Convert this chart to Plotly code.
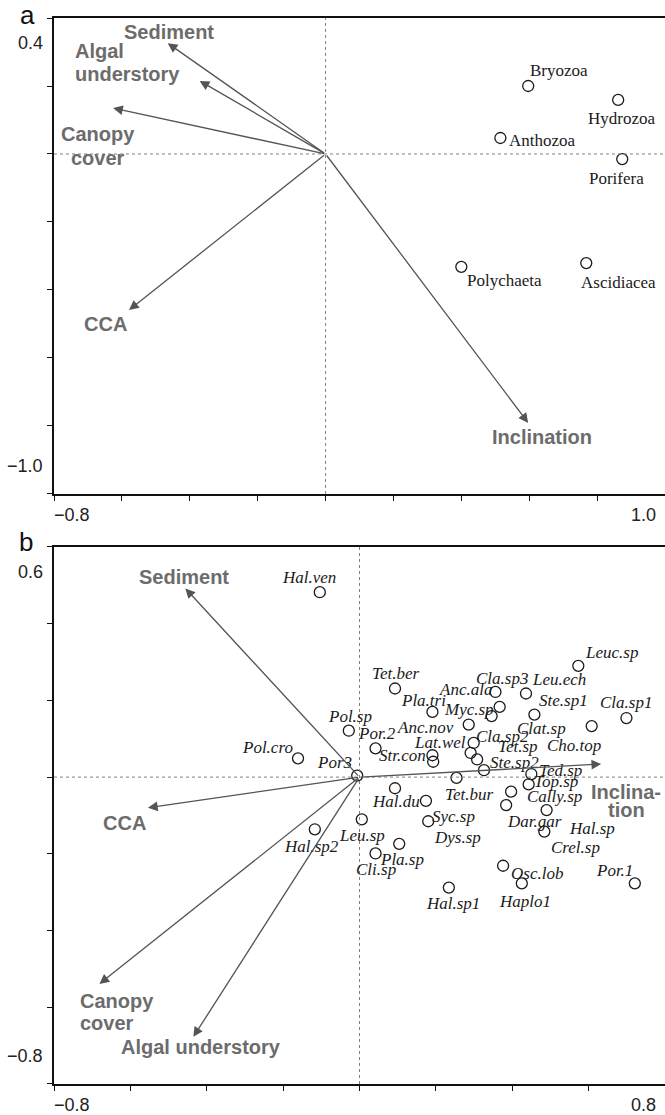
import plotly.graph_objects as go

# ---------------- data: panel a ----------------
sp_a_names = ["Bryozoa", "Hydrozoa", "Anthozoa", "Porifera", "Polychaeta", "Ascidiacea"]
sp_a_x = [0.597, 0.862, 0.515, 0.874, 0.400, 0.768]
sp_a_y = [0.200, 0.159, 0.047, -0.015, -0.332, -0.321]

env_a_names = ["Sediment", "Algal understory", "Canopy cover", "CCA", "Inclination"]
env_a_x = [-0.465, -0.371, -0.626, -0.579, 0.597]
env_a_y = [0.326, 0.215, 0.135, -0.459, -0.791]

# ---------------- data: panel b ----------------
sp_b_names = ["Hal.ven", "Tet.ber", "Pla.tri", "Anc.ala", "Cla.sp3", "Leu.ech", "Leuc.sp",
              "Myc.sp", "Ste.sp1", "Cla.sp1", "Pol.sp", "Por.2", "Anc.nov", "Clat.sp",
              "Cho.top", "Lat.wel", "Cla.sp2", "Tet.sp", "Ste.sp2", "Str.con", "Pol.cro",
              "Por3", "Ted.sp", "Top.sp", "Tet.bur", "Hal.du", "Cally.sp", "Syc.sp",
              "Dys.sp", "Dar.gar", "Hal.sp", "Crel.sp", "Leu.sp", "Hal.sp2", "Pla.sp",
              "Cli.sp", "Osc.lob", "Haplo1", "Por.1", "Hal.sp1"]
sp_b_x = [-0.104, 0.093, 0.191, 0.367, 0.356, 0.436, 0.573,
          0.346, 0.458, 0.699, -0.028, 0.042, 0.286, 0.193,
          0.608, 0.299, 0.291, 0.308, 0.326, 0.191, -0.161,
          -0.006, 0.450, 0.443, 0.254, 0.093, 0.397, 0.174,
          0.180, 0.384, 0.490, 0.484, 0.006, -0.117, 0.104,
          0.042, 0.376, 0.425, 0.721, 0.234]
sp_b_y = [0.482, 0.231, 0.170, 0.183, 0.222, 0.218, 0.290,
          0.159, 0.163, 0.154, 0.121, 0.075, 0.137, 0.040,
          0.133, 0.089, 0.063, 0.046, 0.018, 0.057, 0.049,
          0.004, 0.008, -0.019, -0.002, -0.029, -0.038, -0.062,
          -0.115, -0.073, -0.086, -0.142, -0.110, -0.136, -0.174,
          -0.199, -0.231, -0.277, -0.277, -0.288]

env_b_names = ["Sediment", "CCA", "Canopy cover", "Algal understory", "Inclination"]
env_b_x = [-0.456, -0.554, -0.681, -0.435, 0.633]
env_b_y = [0.492, -0.080, -0.539, -0.677, 0.034]

# axis ticks / end labels
ticks_a_x = [-0.8, -0.6, -0.4, -0.2, 0.0, 0.2, 0.4, 0.6, 0.8, 1.0]
ticks_a_y = [-1.0, -0.8, -0.6, -0.4, -0.2, 0.0, 0.2, 0.4]
ticks_b_x = [-0.8, -0.6, -0.4, -0.2, 0.0, 0.2, 0.4, 0.6, 0.8]
ticks_b_y = [-0.8, -0.6, -0.4, -0.2, 0.0, 0.2, 0.4, 0.6]
range_a_x = [-0.8, 1.0]
range_a_y = [-1.0, 0.4]
range_b_x = [-0.8, 0.8]
range_b_y = [-0.8, 0.6]

# ---------------- label placement (pixel offsets) ----------------
lab_a_off = {"Bryozoa": (31, 16), "Hydrozoa": (3, -19), "Anthozoa": (42, -2),
             "Porifera": (-6, -19), "Polychaeta": (43, -14), "Ascidiacea": (32, -19)}
lab_b_off = {"Hal.ven": (-11, 15), "Tet.ber": (0, 15), "Pla.tri": (-9, 11), "Anc.ala": (-34, 17),
             "Cla.sp3": (7, 13), "Leu.ech": (33, 14), "Leuc.sp": (33, 13), "Myc.sp": (-23, 7),
             "Ste.sp1": (29, 14), "Cla.sp1": (0, 16), "Pol.sp": (1, 14), "Por.2": (1, 15),
             "Anc.nov": (-43, -3), "Clat.sp": (108, 33), "Cho.top": (-18, -19), "Lat.wel": (-34, 0),
             "Cla.sp2": (32, 16), "Tet.sp": (41, 13), "Ste.sp2": (31, 8), "Str.con": (-30, 0),
             "Pol.cro": (-31, 11), "Por3": (-23, 13), "Ted.sp": (29, 4), "Top.sp": (27, 3),
             "Tet.bur": (12, -17), "Hal.du": (1, -13), "Cally.sp": (43, -5), "Syc.sp": (28, -16),
             "Dys.sp": (29, -16), "Dar.gar": (28, -16), "Hal.sp": (45, -18), "Crel.sp": (31, -16),
             "Leu.sp": (0, -16), "Hal.sp2": (-3, -17), "Pla.sp": (3, -16), "Cli.sp": (0, -16),
             "Osc.lob": (34, -8), "Haplo1": (3, -18), "Por.1": (-20, 13), "Hal.sp1": (4, -16)}
# env label: (lines, dx, dy of first line, xanchor, line spacing)
env_a_lab = {"Sediment": (["Sediment"], 1, 11, "center", 0),
             "Algal understory": (["Algal", "understory"], -127, 30, "left", 23),
             "Canopy cover": (["Canopy", "cover"], -15, -26, "center", 24),
             "CCA": (["CCA"], -24, -14, "center", 0),
             "Inclination": (["Inclination"], 14, -14, "center", 0)}
env_b_lab = {"Sediment": (["Sediment"], -1, 11, "center", 0),
             "CCA": (["CCA"], -23, -15, "center", 0),
             "Canopy cover": (["Canopy", "cover"], -21, -17, "left", 22),
             "Algal understory": (["Algal understory"], 8, -10, "center", 0),
             "Inclination": (["Inclina-", "tion"], 25, -28, "center", 18)}

ARROW_C = "#545454"
ENV_C = "#6c6c6c"
TXT_C = "#1a1a1a"
SANS = "Liberation Sans, Arial, sans-serif"
SERIF = "Liberation Serif, Times New Roman, serif"

fig = go.Figure()
ann = []
shapes = []

def add_panel(xref, yref, spn, spx, spy, off, italic, envn, envx, envy, envlab):
    fig.add_trace(go.Scatter(
        x=spx, y=spy, mode="markers", xaxis=xref, yaxis=yref, text=spn,
        marker=dict(symbol="circle-open", size=11, color=TXT_C, line=dict(width=1.3)),
        hoverinfo="text", showlegend=False))
    for n, x, y in zip(spn, spx, spy):
        dx, dy = off[n]
        ann.append(dict(x=x, y=y, xref=xref, yref=yref, text=n, showarrow=False,
                        xshift=dx, yshift=dy, xanchor="center", yanchor="middle",
                        font=dict(family=SERIF, size=17, color=TXT_C,
                                  style="italic" if italic else "normal")))
    for n, x, y in zip(envn, envx, envy):
        ann.append(dict(x=x, y=y, xref=xref, yref=yref, ax=0, ay=0,
                        axref=xref, ayref=yref, text="", showarrow=True,
                        arrowhead=2, arrowsize=1.5, arrowwidth=1.3,
                        arrowcolor=ARROW_C, standoff=0, startstandoff=0))
        lines, dx, dy, xa, sp = envlab[n]
        for i, t in enumerate(lines):
            ann.append(dict(x=x, y=y, xref=xref, yref=yref, text="<b>%s</b>" % t,
                            showarrow=False, xshift=dx, yshift=dy - i * sp,
                            xanchor=xa, yanchor="middle",
                            font=dict(family=SANS, size=20, color=ENV_C)))
    # dotted cross through origin
    shapes.append(dict(type="line", xref=xref, yref=yref + " domain", x0=0, x1=0, y0=0, y1=1,
                       line=dict(color="#808080", width=1, dash="dot")))
    shapes.append(dict(type="line", xref=xref + " domain", yref=yref, x0=0, x1=1, y0=0, y1=0,
                       line=dict(color="#808080", width=1, dash="dot")))

add_panel("x", "y", sp_a_names, sp_a_x, sp_a_y, lab_a_off, False,
          env_a_names, env_a_x, env_a_y, env_a_lab)
add_panel("x2", "y2", sp_b_names, sp_b_x, sp_b_y, lab_b_off, True,
          env_b_names, env_b_x, env_b_y, env_b_lab)

# end tick labels
TF = dict(family=SANS, size=18, color="#222222")
def tick_labels(xref, yref, xr, yr):
    ann.append(dict(x=xr[0], y=0, xref=xref, yref=yref + " domain", text="−%.1f" % abs(xr[0]),
                    showarrow=False, xanchor="left", yanchor="top", xshift=-2, yshift=-9, font=TF))
    ann.append(dict(x=xr[1], y=0, xref=xref, yref=yref + " domain", text="%.1f" % xr[1],
                    showarrow=False, xanchor="right", yanchor="top", xshift=-7, yshift=-9, font=TF))
    ann.append(dict(x=0, y=yr[1], xref=xref + " domain", yref=yref, text="%.1f" % yr[1],
                    showarrow=False, xanchor="right", yanchor="top", xshift=-9, yshift=-13, font=TF))
    ann.append(dict(x=0, y=yr[0], xref=xref + " domain", yref=yref, text="−%.1f" % abs(yr[0]),
                    showarrow=False, xanchor="right", yanchor="bottom", xshift=-9, yshift=16, font=TF))

tick_labels("x", "y", range_a_x, range_a_y)
tick_labels("x2", "y2", range_b_x, range_b_y)

# panel letters
ann.append(dict(x=0, y=1, xref="x domain", yref="y domain", text="a", showarrow=False,
                xanchor="center", yanchor="bottom", xshift=-27, yshift=-14,
                font=dict(family=SANS, size=26, color="#111111")))
ann.append(dict(x=0, y=1, xref="x2 domain", yref="y2 domain", text="b", showarrow=False,
                xanchor="center", yanchor="bottom", xshift=-28, yshift=-12,
                font=dict(family=SANS, size=26, color="#111111")))

def xax(rng, ticks, anchor):
    return dict(range=rng, domain=[0, 1], anchor=anchor, showline=True, linecolor="#111111",
                linewidth=1.5, mirror=True, ticks="outside", ticklen=5, tickwidth=1.2,
                tickcolor="#111111", tickvals=ticks, showticklabels=False,
                showgrid=False, zeroline=False, fixedrange=True)

def yax(rng, ticks, anchor, dom):
    return dict(range=rng, domain=dom, anchor=anchor, showline=True, linecolor="#111111",
                linewidth=1.5, mirror=False, ticks="outside", ticklen=5, tickwidth=1.2,
                tickcolor="#111111", tickvals=ticks, showticklabels=False,
                showgrid=False, zeroline=False, fixedrange=True)

fig.update_layout(
    width=665, height=1115,
    margin=dict(l=54, r=0, t=18, b=31),
    paper_bgcolor="white", plot_bgcolor="white",
    xaxis=xax(range_a_x, ticks_a_x, "y"),
    yaxis=yax(range_a_y, ticks_a_y, "x", [0.5535, 1.0]),
    xaxis2=xax(range_b_x, ticks_b_x, "y2"),
    yaxis2=yax(range_b_y, ticks_b_y, "x2", [0.0, 0.5038]),
    annotations=ann, shapes=shapes, showlegend=False,
)

fig.write_html("out.html", config={"displayModeBar": False},
               post_script="document.body.style.margin='0px';document.body.style.overflow='hidden';")
